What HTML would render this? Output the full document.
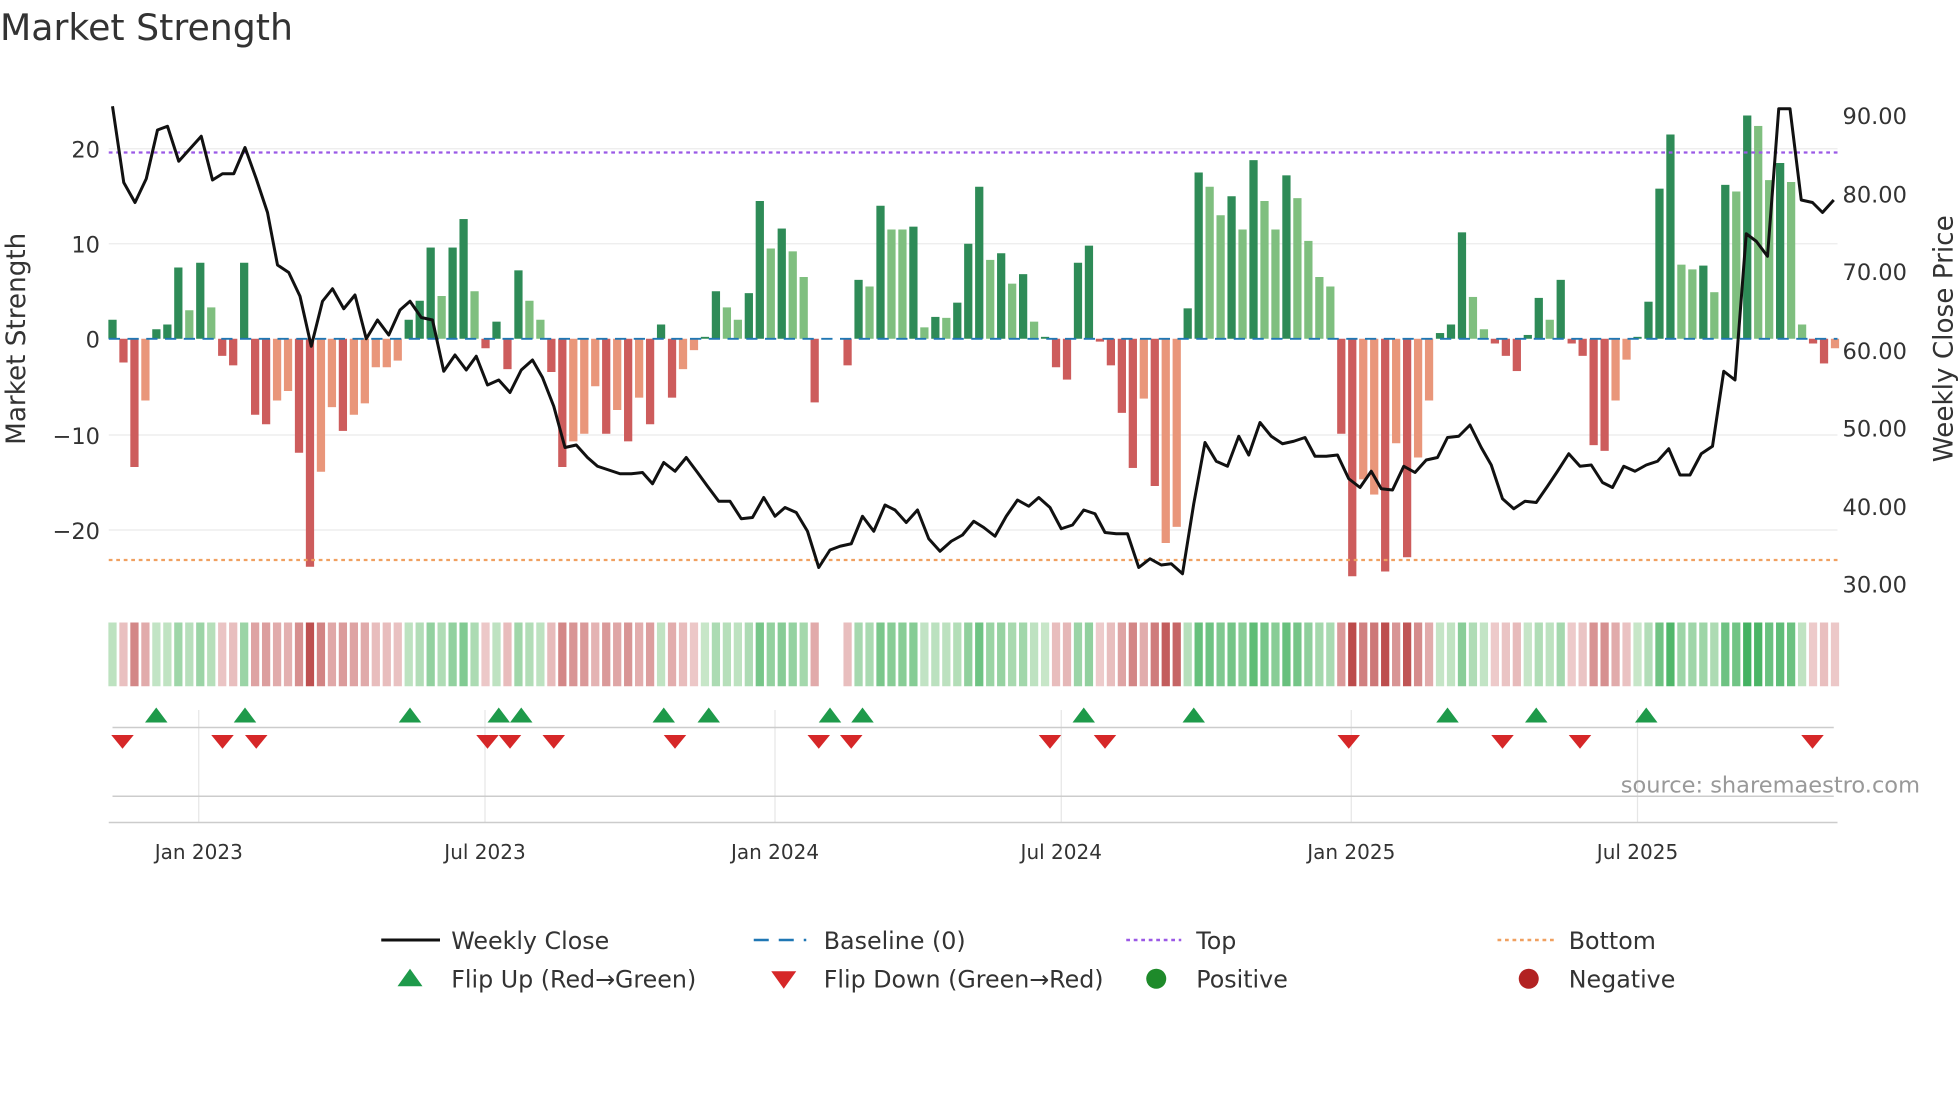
<!DOCTYPE html>
<html><head><meta charset="utf-8"><style>
html,body{margin:0;padding:0;background:#fff;}
svg{display:block;font-family:"DejaVu Sans","Liberation Sans",sans-serif;}
</style></head><body>
<svg id="s" width="1960" height="1102" viewBox="0 0 1568 881.6" xmlns="http://www.w3.org/2000/svg">
<text x="0" y="32" font-size="29" fill="#333">Market Strength</text>
<g stroke="#ebebeb" stroke-width="1">
<line x1="87" x2="1470" y1="119" y2="119"/><line x1="87" x2="1470" y1="195" y2="195"/>
<line x1="87" x2="1470" y1="348" y2="348"/><line x1="87" x2="1470" y1="424" y2="424"/>
</g>
<g id="bars"></g>
<line x1="87" x2="1470" y1="271" y2="271" stroke="#1f77b4" stroke-width="1.5" stroke-dasharray="9,6"/>
<line x1="87" x2="1470" y1="122" y2="122" stroke="#9b59e6" stroke-width="1.8" stroke-dasharray="3,3"/>
<line x1="87" x2="1470" y1="448" y2="448" stroke="#f0a060" stroke-width="1.8" stroke-dasharray="3,3"/>
<polyline id="price" fill="none" stroke="#111" stroke-width="2.4" stroke-linejoin="round"/>
<g font-size="18" fill="#333" text-anchor="end">
<text x="80" y="126">20</text><text x="80" y="202">10</text><text x="80" y="278">0</text>
<text x="80" y="355">−10</text><text x="80" y="431">−20</text>
</g>
<g font-size="18" fill="#333">
<text x="1474" y="99">90.00</text><text x="1474" y="162">80.00</text><text x="1474" y="224">70.00</text>
<text x="1474" y="287">60.00</text><text x="1474" y="349">50.00</text><text x="1474" y="412">40.00</text><text x="1474" y="474">30.00</text>
</g>
<text transform="translate(20,271) rotate(-90)" font-size="21" fill="#333" text-anchor="middle">Market Strength</text>
<text transform="translate(1562,271) rotate(-90)" font-size="21" fill="#333" text-anchor="middle">Weekly Close Price</text>
<g id="heat"></g>
<g stroke="#e6e6e6" stroke-width="1">
<line x1="159" x2="159" y1="568" y2="658"/><line x1="388" x2="388" y1="568" y2="658"/>
<line x1="620" x2="620" y1="568" y2="658"/><line x1="849" x2="849" y1="568" y2="658"/>
<line x1="1081" x2="1081" y1="568" y2="658"/><line x1="1310" x2="1310" y1="568" y2="658"/>
</g>
<line x1="90" x2="1467" y1="582" y2="582" stroke="#ccc" stroke-width="1.2"/>
<line x1="90" x2="1467" y1="637" y2="637" stroke="#ccc" stroke-width="1.2"/>
<line x1="87" x2="1470" y1="658" y2="658" stroke="#ccc" stroke-width="1.2"/>
<g id="tri"></g>
<text x="1536" y="634" font-size="18" fill="#999" text-anchor="end">source: sharemaestro.com</text>
<g font-size="16" fill="#333" text-anchor="middle">
<text x="159" y="687">Jan 2023</text><text x="388" y="687">Jul 2023</text><text x="620" y="687">Jan 2024</text>
<text x="849" y="687">Jul 2024</text><text x="1081" y="687">Jan 2025</text><text x="1310" y="687">Jul 2025</text>
</g>
<g font-size="19" fill="#333">
<line x1="305" x2="352" y1="752" y2="752" stroke="#111" stroke-width="2.4"/><text x="361" y="759">Weekly Close</text>
<line x1="603" x2="645" y1="752" y2="752" stroke="#1f77b4" stroke-width="2" stroke-dasharray="12,8"/><text x="659" y="759">Baseline (0)</text>
<line x1="901" x2="945" y1="752" y2="752" stroke="#9b59e6" stroke-width="2" stroke-dasharray="3,3"/><text x="957" y="759">Top</text>
<line x1="1198" x2="1243" y1="752" y2="752" stroke="#f0a060" stroke-width="2" stroke-dasharray="3,3"/><text x="1255" y="759">Bottom</text>
<polygon points="318,789 338,789 328,775" fill="#1e9a4a"/><text x="361" y="790">Flip Up (Red→Green)</text>
<polygon points="617,777 637,777 627,791" fill="#d62728"/><text x="659" y="790">Flip Down (Green→Red)</text>
<circle cx="925" cy="783" r="8" fill="#1e8a2a"/><text x="957" y="790">Positive</text>
<circle cx="1223" cy="783" r="8" fill="#b22222"/><text x="1255" y="790">Negative</text>
</g>
</svg>
<script>
var B=[[2,1],[-2.5,1],[-13.5,1],[-6.5,0],[1,1],[1.5,1],[7.5,1],[3,0],[8,1],[3.3,0],[-1.8,1],[-2.8,1],[8,1],[-8,1],[-9,1],[-6.5,0],[-5.5,0],[-12,1],[-24,1],[-14,0],[-7.2,0],[-9.7,1],[-8,0],[-6.8,0],[-3,0],[-3,0],[-2.3,0],[2,1],[4,1],[9.6,1],[4.5,0],[9.6,1],[12.6,1],[5,0],[-1,1],[1.8,1],[-3.2,1],[7.2,1],[4,0],[2,0],[-3.5,1],[-13.5,1],[-10.8,0],[-10,0],[-5,0],[-10,1],[-7.5,0],[-10.8,1],[-6.2,0],[-9,1],[1.5,1],[-6.2,1],[-3.2,0],[-1.2,0],[0.2,1],[5,1],[3.3,0],[2,0],[4.8,1],[14.5,1],[9.5,0],[11.6,1],[9.2,0],[6.5,0],[-6.7,1],[0,2],[0,2],[-2.8,1],[6.2,1],[5.5,0],[14,1],[11.5,0],[11.5,0],[11.8,1],[1.2,0],[2.3,1],[2.2,0],[3.8,1],[10,1],[16,1],[8.3,0],[9,1],[5.8,0],[6.8,1],[1.8,0],[0.2,1],[-3,1],[-4.3,1],[8,1],[9.8,1],[-0.3,1],[-2.8,1],[-7.8,1],[-13.6,1],[-6.3,0],[-15.5,1],[-21.5,0],[-19.8,0],[3.2,1],[17.5,1],[16,0],[13,0],[15,1],[11.5,0],[18.8,1],[14.5,0],[11.5,0],[17.2,1],[14.8,0],[10.3,0],[6.5,0],[5.5,0],[-10,1],[-25,1],[-14.8,0],[-16.4,0],[-24.5,1],[-11,0],[-23,1],[-12.5,0],[-6.5,0],[0.6,1],[1.5,1],[11.2,1],[4.4,0],[1,0],[-0.5,1],[-1.8,1],[-3.4,1],[0.4,1],[4.3,1],[2,0],[6.2,1],[-0.5,1],[-1.8,1],[-11.2,1],[-11.8,1],[-6.5,0],[-2.2,0],[0.2,1],[3.9,1],[15.8,1],[21.5,1],[7.8,0],[7.3,0],[7.7,1],[4.9,0],[16.2,1],[15.5,0],[23.5,1],[22.4,0],[16.7,0],[18.5,1],[16.5,0],[1.5,0],[-0.5,1],[-2.6,1],[-1,0]];
var n=B.length,x0=90,x1=1468,dx=(x1-x0)/(n-1),ns="http://www.w3.org/2000/svg";
function el(p,t,a){var e=document.createElementNS(ns,t);for(var k in a)e.setAttribute(k,a[k]);document.getElementById(p).appendChild(e);}
B.forEach(function(b,i){var v=b[0],x=x0+i*dx;
 if(b[1]!=2){var c=v>=0?(b[1]?"#2e8b57":"#7fbf7f"):(b[1]?"#cd5c5c":"#e9967a");
 var h=Math.abs(v)*7.6;el("bars","rect",{x:x-3.3,y:v>=0?271-h:271,width:6.6,height:Math.max(h,0.8),fill:c});}
 if(b[1]!=2){var t=Math.min(Math.abs(v)/25,1),col;
  if(v>=0){var r=Math.round(200-t*140),g=Math.round(230-t*55),bb=Math.round(201-t*110);col="rgb("+r+","+g+","+bb+")";}
  else{var r2=Math.round(238-t*50),g2=Math.round(205-t*130),b2=Math.round(205-t*130);col="rgb("+r2+","+g2+","+b2+")";}
  el("heat","rect",{x:x-3.3,y:498,width:6.6,height:51,fill:col});}
});
var P=[[90,85],[99,146],[108,162],[117,143],[126,104],[134,101],[143,129],[152,119],[161,109],[170,144],[178,139],[187,139],[196,118],[205,143],[214,170],[222,212],[231,218],[240,237],[249,277],[258,241],[266,231],[275,247],[284,236],[293,271],[302,256],[311,268],[320,248],[328,241],[337,254],[346,256],[355,297],[364,284],[373,296],[381,285],[390,308],[399,304],[408,314],[417,296],[426,288],[434,302],[443,325],[452,358],[461,356],[470,366],[478,373],[487,376],[496,379],[505,379],[514,378],[522,387],[531,370],[540,377],[549,366],[558,378],[566,389],[575,401],[584,401],[593,415],[602,414],[611,398],[620,413],[628,406],[637,410],[646,425],[655,454],[664,440],[672,437],[681,435],[690,413],[699,425],[708,404],[716,408],[725,418],[734,408],[743,431],[752,441],[761,433],[770,428],[779,417],[787,422],[796,429],[805,413],[814,400],[823,405],[831,398],[840,406],[849,423],[858,420],[867,408],[876,411],[884,426],[893,427],[902,427],[911,454],[920,447],[929,452],[937,451],[946,459],[955,403],[964,354],[973,369],[982,373],[991,349],[999,364],[1008,338],[1017,349],[1026,355],[1035,353],[1044,350],[1052,365],[1061,365],[1070,364],[1079,383],[1088,390],[1097,377],[1105,391],[1114,392],[1123,373],[1132,378],[1141,368],[1150,366],[1158,350],[1167,349],[1176,340],[1185,358],[1193,372],[1202,399],[1211,407],[1220,401],[1229,402],[1238,389],[1246,377],[1255,363],[1264,373],[1273,372],[1282,386],[1290,390],[1299,373],[1308,377],[1317,372],[1326,369],[1335,359],[1344,380],[1352,380],[1361,363],[1370,357],[1379,297],[1388,304],[1397,187],[1405,193],[1414,205],[1423,87],[1432,87],[1441,160],[1450,162],[1458,170],[1467,160]];
document.getElementById("price").setAttribute("points",P.map(function(p){return p.join(",")}).join(" "));
[125,196,328,399,417,531,567,664,690,867,955,1158,1229,1317].forEach(function(x){el("tri","polygon",{points:(x-9)+",578 "+(x+9)+",578 "+x+",566",fill:"#1e9a4a"});});
[98,178,205,390,408,443,540,655,681,840,884,1079,1202,1264,1450].forEach(function(x){el("tri","polygon",{points:(x-9)+",588 "+(x+9)+",588 "+x+",599",fill:"#d62728"});});
</script>
</body></html>
